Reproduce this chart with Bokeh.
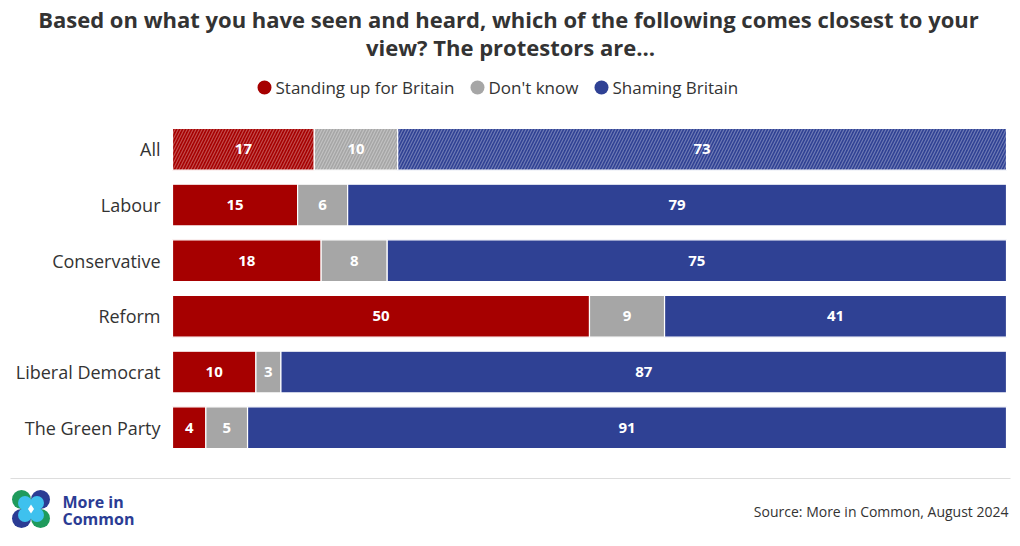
from bokeh.plotting import figure
from bokeh.models import ColumnDataSource, FactorRange, Range1d
from bokeh.core.properties import value
from bokeh.embed import file_html
from bokeh.resources import INLINE

# ---- data ----
categories = ["All", "Labour", "Conservative", "Reform", "Liberal Democrat", "The Green Party"]
standing = [17, 15, 18, 50, 10, 4]
dont_know = [10, 6, 8, 9, 3, 5]
shaming = [73, 79, 75, 41, 87, 91]
series_names = ["Standing up for Britain", "Don't know", "Shaming Britain"]
series_colors = ["#A60000", "#A6A6A6", "#2F4194"]

title_lines = ["Based on what you have seen and heard, which of the following comes closest to your",
               "view? The protestors are\u2026"]
source_text = "Source: More in Common, August 2024"
logo_lines = ["More in", "Common"]

FONT = "Open Sans"
TXT = "#333333"
W, H = 1016, 543
TOP = 33                       # title panel above the drawing frame
BAR_L, BAR_R = 172, 1006       # pixel span of 0..100 %
ROW_T, ROW_B = 121, 455        # pixel span of the six rows

span = BAR_R - BAR_L
band = (ROW_B - ROW_T) / len(categories)
pad = ((H - TOP) - (ROW_B - ROW_T)) / 2 / band


def X(px):
    # canvas pixel -> percent axis
    return (px - BAR_L) / span * 100


def Y(py):
    # canvas pixel -> synthetic categorical coordinate
    return -pad + (H - py) / band


p = figure(width=W, height=H, x_range=Range1d(X(0), X(W)),
           y_range=FactorRange(*reversed(categories), range_padding=pad, range_padding_units="absolute"),
           output_backend="svg", toolbar_location=None, x_axis_location=None,
           y_axis_location=None, min_border=0, min_border_top=TOP, outline_line_color=None)
p.grid.visible = False

# ---- title ----
p.title.text = title_lines[0]
p.title.align = "center"
p.title.text_font = FONT
p.title.text_font_style = "bold"
p.title.text_font_size = "22px"
p.title.text_color = TXT
p.title.standoff = 0
p.text(x=[X(510)], y=[Y(47)], text=[title_lines[1]], text_align="center", text_baseline="middle",
       text_font=value(FONT), text_font_style="bold", text_font_size="22px", text_color=TXT)

# ---- stacked shares ----
totals = [a + b + c for a, b, c in zip(standing, dont_know, shaming)]
s1 = [100 * a / t for a, t in zip(standing, totals)]
s2 = [100 * b / t for b, t in zip(dont_know, totals)]
left1 = [0] * len(categories)
right1 = s1
left2 = right1
right2 = [a + b for a, b in zip(s1, s2)]
left3 = right2
right3 = [100.0] * len(categories)
hatch = ["/" if c == "All" else " " for c in categories]

for lefts, rights, vals, col in [(left1, right1, standing, series_colors[0]),
                                 (left2, right2, dont_know, series_colors[1]),
                                 (left3, right3, shaming, series_colors[2])]:
    src = ColumnDataSource(dict(y=categories, left=lefts, right=rights, hp=hatch,
                                xc=[(l + r) / 2 for l, r in zip(lefts, rights)],
                                lab=[str(v) for v in vals]))
    p.hbar(y="y", left="left", right="right", height=0.75, source=src, fill_color=col,
           line_color="white", line_width=1.2, hatch_pattern="hp", hatch_color="white",
           hatch_alpha=0.3, hatch_scale=6, hatch_weight=1.2)
    p.text(x="xc", y="y", text="lab", source=src, text_align="center", text_baseline="middle",
           text_font=value(FONT), text_font_style="bold", text_font_size="15px", text_color="white")

# category labels
p.text(x=[X(160)] * len(categories), y=categories, text=categories, text_align="right",
       text_baseline="middle", text_font=value(FONT), text_font_size="18px", text_color=TXT)

# ---- legend (circle markers + labels) ----
leg_px = [264, 477, 601]
p.scatter(x=[X(v) for v in leg_px], y=[Y(87)] * 3, marker="circle", size=14,
          fill_color=series_colors, line_color=None)
p.text(x=[X(v + 11) for v in leg_px], y=[Y(87)] * 3, text=series_names, text_align="left",
       text_baseline="middle", text_font=value(FONT), text_font_size="17px", text_color=TXT)

# ---- footer ----
p.segment(x0=[X(10)], y0=[Y(478)], x1=[X(1010)], y1=[Y(478)], line_color="#DDDDDD", line_width=1)
green, dblue, cyan = "#1F9B5C", "#2B3C94", "#3EC1EE"
logo_cx = [21, 40, 21, 40]
logo_cy = [499, 499, 518, 518]
r_out = 9.5 / span * 100
r_in = 7 / span * 100
p.circle(x=[X(v) for v in logo_cx], y=[Y(v) for v in logo_cy], radius=r_out,
         fill_color=[green, dblue, dblue, green], line_color=None)
p.circle(x=[X(v) for v in [24.5, 36.5, 24.5, 36.5]], y=[Y(v) for v in [502.5, 502.5, 514.5, 514.5]],
         radius=r_in, fill_color=cyan, line_color=None)
p.scatter(x=[X(30.5)], y=[Y(508.5)], marker="diamond", size=9, fill_color="white", line_color=None)
p.text(x=[X(62), X(62)], y=[Y(501), Y(518)], text=logo_lines, text_align="left",
       text_baseline="middle", text_font=value(FONT), text_font_style="bold",
       text_font_size="16px", text_color=dblue)
p.text(x=[X(1008)], y=[Y(511)], text=[source_text], text_align="right", text_baseline="middle",
       text_font=value(FONT), text_font_size="14px", text_color=TXT)

open("out.html", "w").write(file_html(p, INLINE))
